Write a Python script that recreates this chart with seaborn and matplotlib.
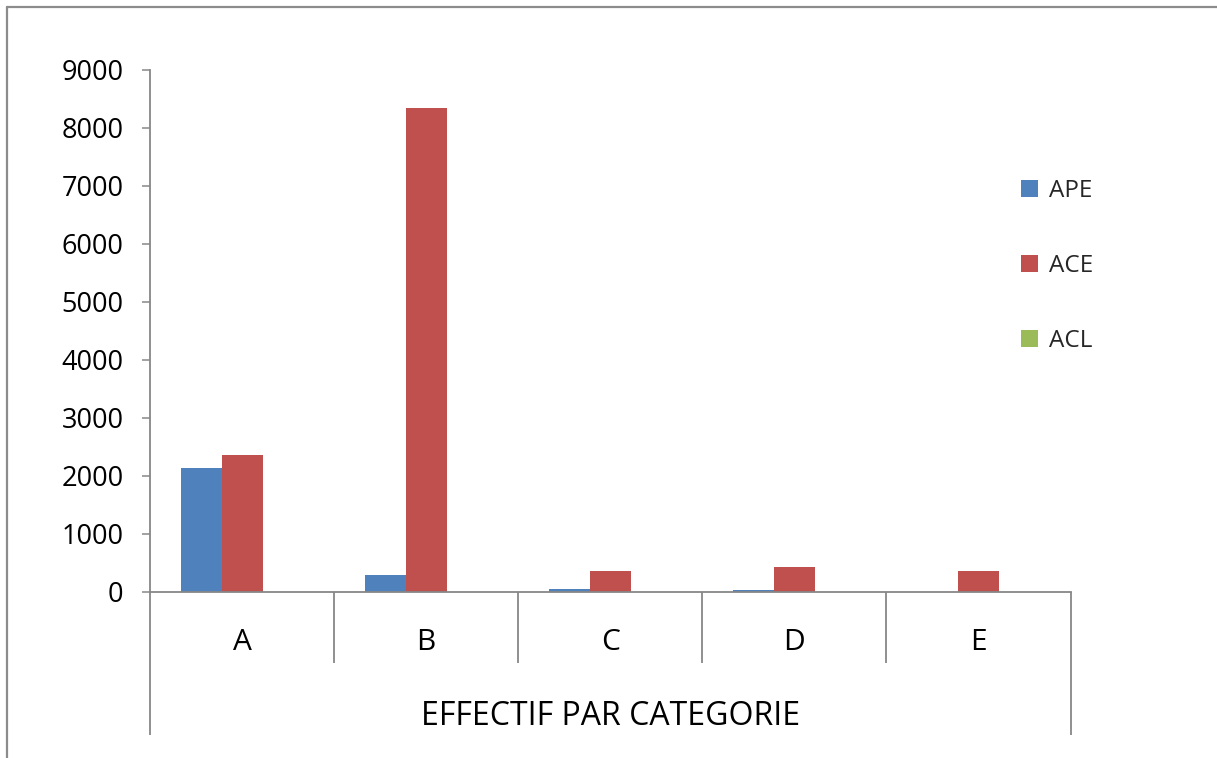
import matplotlib
matplotlib.use("Agg")
import matplotlib.pyplot as plt
from matplotlib.lines import Line2D
import pandas as pd
import seaborn as sns

# Headcount per category, by group
categories = ["A", "B", "C", "D", "E"]
series_names = ["APE", "ACE", "ACL"]
ape_values = [2130, 290, 50, 30, 0]
ace_values = [2360, 8340, 360, 430, 360]
acl_values = [0, 0, 0, 0, 0]
y_ticks = [0, 1000, 2000, 3000, 4000, 5000, 6000, 7000, 8000, 9000]
x_title = "EFFECTIF PAR CATEGORIE"

palette = {"APE": "#4F81BD", "ACE": "#C0504D", "ACL": "#9BBB59"}
axis_grey = "#878787"

rows = []
for name, vals in zip(series_names, [ape_values, ace_values, acl_values]):
    for cat, v in zip(categories, vals):
        rows.append({"categorie": cat, "serie": name, "effectif": v})
df = pd.DataFrame(rows)

sns.set_theme(style="white")
plt.rcParams["font.family"] = ["Open Sans", "DejaVu Sans"]

W, H = 1217, 758
fig = plt.figure(figsize=(W / 100, H / 100), dpi=100)
ax = fig.add_axes([150 / W, 1 - 592 / H, (1070.5 - 150) / W, (592 - 70) / H])

sns.barplot(data=df, x="categorie", y="effectif", hue="serie",
            order=categories, hue_order=series_names, palette=palette,
            width=0.668, linewidth=0, saturation=1, ax=ax)

ax.set_xlim(-0.5, len(categories) - 0.5)
ax.set_ylim(0, 9000)
ax.set_yticks(y_ticks)
ax.set_yticklabels([str(t) for t in y_ticks], fontsize=19.5)
ax.tick_params(axis="y", direction="out", length=6, width=1.1, color=axis_grey,
               pad=13, left=True, labelcolor="black")
ax.tick_params(axis="x", length=0, pad=26, labelsize=21.5, labelcolor="black")
ax.set_ylabel("")
ax.set_xlabel(x_title, fontsize=23, labelpad=31, color="black")

for side in ["top", "right"]:
    ax.spines[side].set_visible(False)
for side in ["left", "bottom"]:
    ax.spines[side].set_color(axis_grey)
    ax.spines[side].set_linewidth(1.3)

# Category separators below the axis; outer ones reach down past the title
axh = 592 - 70
trans = ax.get_xaxis_transform()
n = len(categories)
for i in range(n + 1):
    x = i - 0.5
    depth = 143 if i in (0, n) else 71
    ax.plot([x, x], [0, -depth / axh], transform=trans, color=axis_grey,
            lw=1.3, clip_on=False, solid_capstyle="butt")

sns.move_legend(ax, loc="center left", bbox_to_anchor=(1021 / W, 1 - 266 / H),
                bbox_transform=fig.transFigure, frameon=False, title=None,
                fontsize=17.5, handlelength=0.7, handleheight=0.7,
                handletextpad=0.45, labelspacing=2.1, borderpad=0,
                borderaxespad=0)

# Chart frame (open on the right and bottom edges)
frame_grey = "#8c8c8c"
fig.add_artist(Line2D([7 / W, 1.0], [1 - 6.5 / H, 1 - 6.5 / H],
                      transform=fig.transFigure, color=frame_grey, lw=1.6))
fig.add_artist(Line2D([7 / W, 7 / W], [0.0, 1 - 6.5 / H],
                      transform=fig.transFigure, color=frame_grey, lw=1.6))

fig.savefig("out.png", dpi=100, facecolor="white")
